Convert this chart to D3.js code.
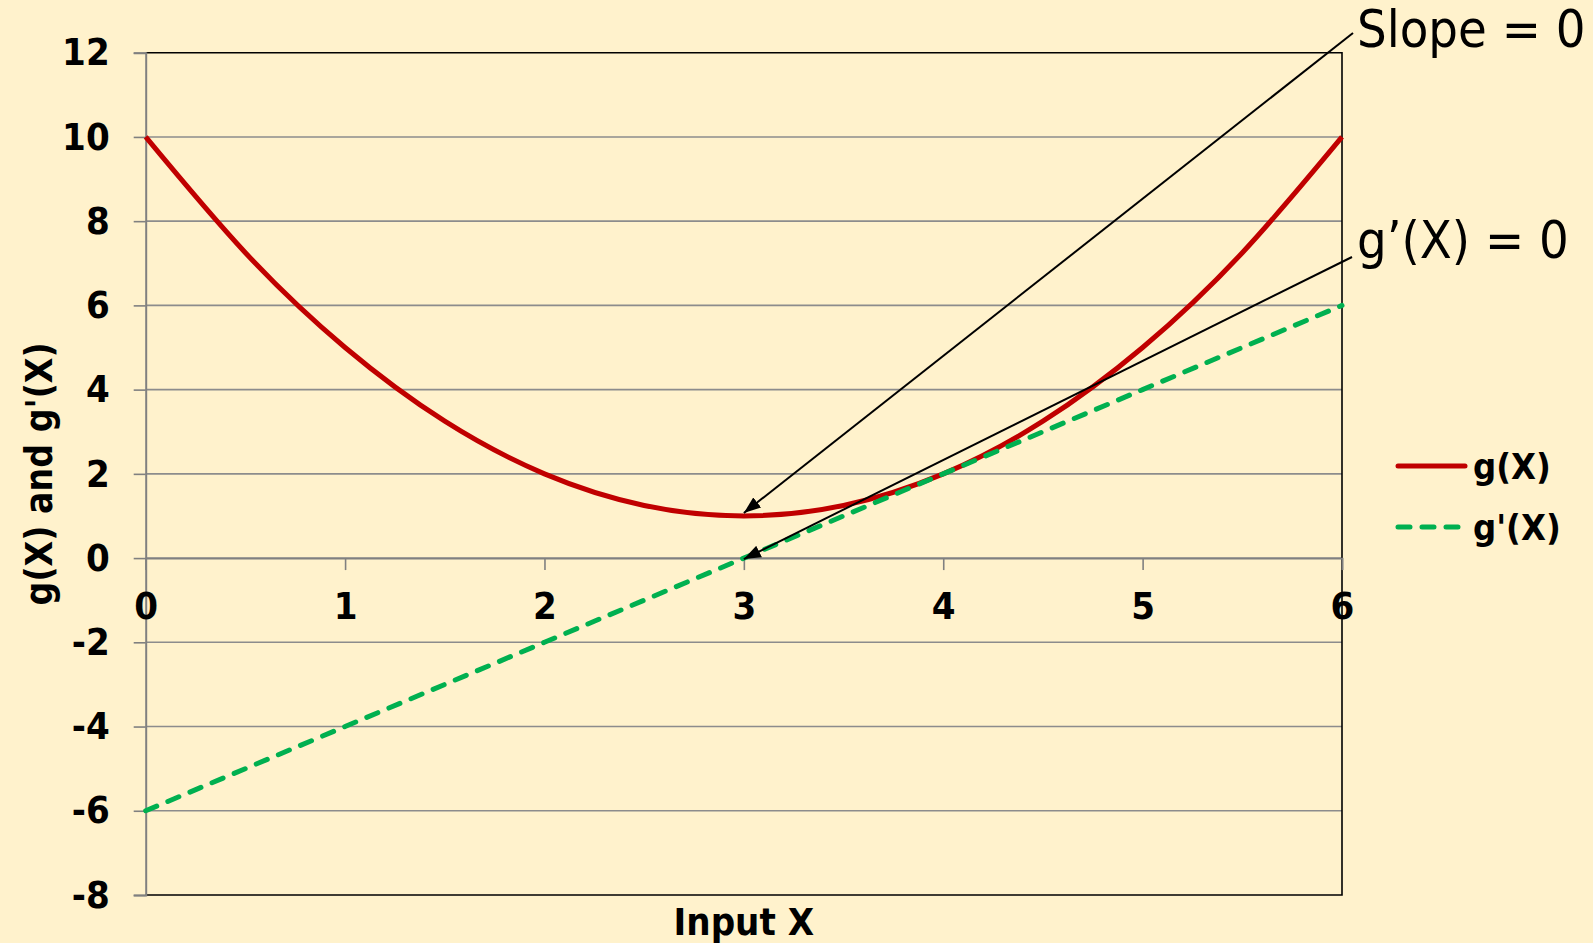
<!DOCTYPE html>
<html>
<head>
<meta charset="utf-8">
<script src="https://cdn.jsdelivr.net/npm/d3@7/dist/d3.min.js"></script>
<style>
  html, body { margin: 0; padding: 0; background: #FFF2CC; }
  svg { display: block; }
  text { font-family: "DejaVu Sans Condensed", "DejaVu Sans", sans-serif; font-stretch: condensed; }
</style>
</head>
<body>
<svg id="chart" width="1593" height="943"></svg>
<script>
// Input values and the two functions sampled every half step
const inputX  = [0, 0.5, 1, 1.5, 2, 2.5, 3, 3.5, 4, 4.5, 5, 5.5, 6];
const gValues = [10, 7.25, 5, 3.25, 2, 1.25, 1, 1.25, 2, 3.25, 5, 7.25, 10];
const gPrime  = [-6, -5, -4, -3, -2, -1, 0, 1, 2, 3, 4, 5, 6];

const xTicks = [0, 1, 2, 3, 4, 5, 6];
const yTicks = [12, 10, 8, 6, 4, 2, 0, -2, -4, -6, -8];

const seriesNames = ["g(X)", "g'(X)"];
const annotations = ["Slope = 0", "g\u2019(X) = 0"];

const svg = d3.select("#chart");
const W = 1593, H = 943;
const plot = { left: 145.7, right: 1342, top: 52.7, bottom: 895 };

const x = d3.scaleLinear().domain([0, 6]).range([plot.left, plot.right]);
const y = d3.scaleLinear().domain([-8, 12]).range([plot.bottom, plot.top]);

svg.append("rect").attr("width", W).attr("height", H).attr("fill", "#FFF2CC");

// horizontal gridlines
svg.append("g")
  .selectAll("line")
  .data(yTicks.filter(d => d !== 12 && d !== -8))
  .join("line")
  .attr("x1", plot.left).attr("x2", plot.right)
  .attr("y1", d => y(d)).attr("y2", d => y(d))
  .attr("stroke", "#8C8C8C").attr("stroke-width", 1.6);

// plot border (top, right, bottom)
svg.append("path")
  .attr("d", `M${plot.left},${plot.top}H${plot.right}V${plot.bottom}H${plot.left}`)
  .attr("fill", "none").attr("stroke", "#000").attr("stroke-width", 1.6);

// y axis
const yAxis = svg.append("g")
  .attr("transform", `translate(${plot.left},0)`)
  .call(d3.axisLeft(y).tickValues(yTicks).tickSize(12).tickPadding(24)
        .tickFormat(d => String(d)));
yAxis.select(".domain").attr("stroke", "#808080").attr("stroke-width", 2);
yAxis.selectAll(".tick line").attr("stroke", "#808080").attr("stroke-width", 1.6);
yAxis.selectAll(".tick text")
  .attr("font-size", 38).attr("font-weight", "bold").attr("fill", "#000")
  .attr("font-family", null);

// x axis through zero
const xAxis = svg.append("g")
  .attr("transform", `translate(0,${y(0)})`)
  .call(d3.axisBottom(x).tickValues(xTicks).tickSize(12).tickPadding(22)
        .tickFormat(d => String(d)));
xAxis.select(".domain").attr("stroke", "#808080").attr("stroke-width", 1.6);
xAxis.selectAll(".tick line").attr("stroke", "#808080").attr("stroke-width", 1.6);
xAxis.selectAll(".tick text")
  .attr("font-size", 38).attr("font-weight", "bold").attr("fill", "#000")
  .attr("font-family", null);

// axis titles
svg.append("text")
  .attr("x", x(3)).attr("y", 935)
  .attr("text-anchor", "middle")
  .attr("font-size", 38).attr("font-weight", "bold")
  .text("Input X");

svg.append("text")
  .attr("transform", `translate(52,${(plot.top + plot.bottom) / 2}) rotate(-90)`)
  .attr("text-anchor", "middle")
  .attr("font-size", 37).attr("font-weight", "bold")
  .text("g(X) and g'(X)");

// series
const pts = (vals) => inputX.map((v, i) => [v, vals[i]]);

svg.append("path")
  .datum(pts(gValues))
  .attr("fill", "none").attr("stroke", "#C00000").attr("stroke-width", 5)
  .attr("stroke-linejoin", "round")
  .attr("d", d3.line().x(d => x(d[0])).y(d => y(d[1])).curve(d3.curveNatural));

svg.append("path")
  .datum(pts(gPrime))
  .attr("fill", "none").attr("stroke", "#00B050").attr("stroke-width", 5)
  .attr("stroke-dasharray", "12,12").attr("stroke-linecap", "round")
  .attr("d", d3.line().x(d => x(d[0])).y(d => y(d[1])));

// legend
const legend = svg.append("g");
const legendRows = [
  { name: seriesNames[0], color: "#C00000", dash: null, yy: 466 },
  { name: seriesNames[1], color: "#00B050", dash: "12,12", yy: 527 }
];
legendRows.forEach(r => {
  legend.append("line")
    .attr("x1", 1398).attr("x2", r.dash ? 1458 : 1465)
    .attr("y1", r.yy).attr("y2", r.yy)
    .attr("stroke", r.color).attr("stroke-width", 5)
    .attr("stroke-linecap", "round")
    .attr("stroke-dasharray", r.dash);
  legend.append("text")
    .attr("x", 1473).attr("y", r.yy + 13)
    .attr("font-size", 36).attr("font-weight", "bold")
    .text(r.name);
});

// annotation arrows
svg.append("defs").append("marker")
  .attr("id", "arrowhead")
  .attr("viewBox", "0 0 16 12").attr("refX", 16).attr("refY", 6)
  .attr("markerWidth", 17).attr("markerHeight", 13)
  .attr("markerUnits", "userSpaceOnUse")
  .attr("orient", "auto")
  .append("path").attr("d", "M0,0L16,6L0,12Z").attr("fill", "#000");

const notes = [
  { label: annotations[0], tx: 1357, ty: 47, from: [1353, 33], to: [x(3), y(1) - 3] },
  { label: annotations[1], tx: 1357, ty: 258, from: [1352, 257], to: [x(3), y(0) + 1] }
];
notes.forEach(n => {
  svg.append("line")
    .attr("x1", n.from[0]).attr("y1", n.from[1])
    .attr("x2", n.to[0]).attr("y2", n.to[1])
    .attr("stroke", "#000").attr("stroke-width", 2)
    .attr("marker-end", "url(#arrowhead)");
  svg.append("text")
    .attr("x", n.tx).attr("y", n.ty)
    .attr("font-size", 52)
    .text(n.label);
});
</script>
</body>
</html>
